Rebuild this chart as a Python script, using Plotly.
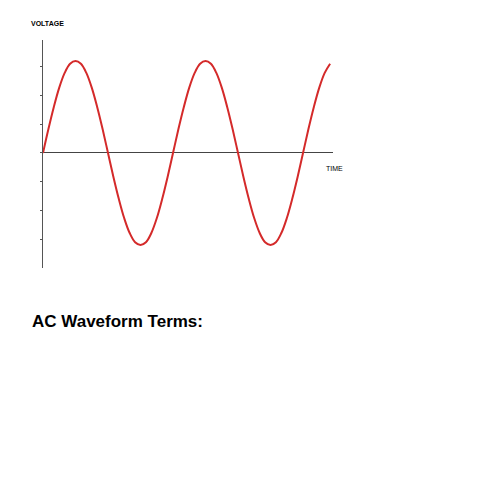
import plotly.graph_objects as go

# phase angle (degrees) and voltage
angle = list(range(0, 810, 15))
voltage = [0.00, 0.26, 0.50, 0.71, 0.87, 0.97, 1.00, 0.97, 0.87, 0.71, 0.50, 0.26,
           0.00, -0.26, -0.50, -0.71, -0.87, -0.97, -1.00, -0.97, -0.87, -0.71, -0.50, -0.26,
           0.00, 0.26, 0.50, 0.71, 0.87, 0.97, 1.00, 0.97, 0.87, 0.71, 0.50, 0.26,
           0.00, -0.26, -0.50, -0.71, -0.87, -0.97, -1.00, -0.97, -0.87, -0.71, -0.50, -0.26,
           0.00, 0.26, 0.50, 0.71, 0.87, 0.97]

W, H = 480, 480
OFF = 7  # page offset seen in the render
L, R, T, B = 42 - OFF, 332 - OFF, 39 - OFF, 267 - OFF  # plot area in pixels


def px(x):
    return (x - OFF - L) / (R - L)


def py(y):
    return (B - (y - OFF)) / (B - T)


fig = go.Figure(go.Scatter(
    x=angle, y=voltage, mode="lines", line=dict(color="#d42a2a", width=2, shape="spline"),
    hoverinfo="skip"))

fig.update_layout(
    width=W, height=H, showlegend=False,
    paper_bgcolor="white", plot_bgcolor="white",
    margin=dict(l=L, r=W - R, t=T, b=H - B),
    xaxis=dict(range=[0, 803], showgrid=False, showticklabels=False, zeroline=False,
               showline=False, fixedrange=True),
    yaxis=dict(range=[-1.25, 1.228], showgrid=False, showticklabels=False,
               zeroline=True, zerolinecolor="#444", zerolinewidth=1,
               showline=True, linecolor="#555", linewidth=1,
               ticks="outside", ticklen=2, tickcolor="#555", dtick=0.315, tick0=0,
               fixedrange=True),
    font=dict(family="Liberation Sans, Arial, sans-serif", color="black"),
    annotations=[
        dict(text="<b>VOLTAGE</b>", x=px(28), y=py(22), xref="paper", yref="paper",
             xanchor="left", yanchor="middle", showarrow=False, font=dict(size=7)),
        dict(text="TIME", x=px(323), y=py(167), xref="paper", yref="paper",
             xanchor="left", yanchor="middle", showarrow=False, font=dict(size=7)),
        dict(text="<b>AC Waveform Terms:</b>", x=px(29), y=py(320), xref="paper", yref="paper",
             xanchor="left", yanchor="middle", showarrow=False, font=dict(size=17)),
    ],
)

fig.write_html("out.html")
